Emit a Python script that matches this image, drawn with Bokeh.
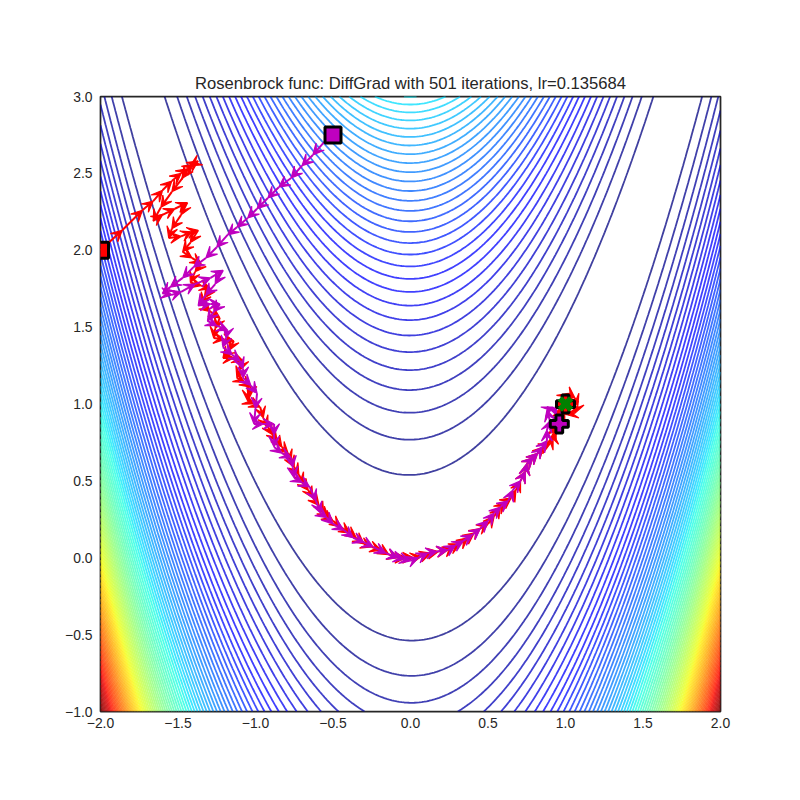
import numpy as np
from bokeh.plotting import figure
from bokeh.models import Arrow, VeeHead, ColumnDataSource, FixedTicker, Range1d
from bokeh.embed import file_html
from bokeh.resources import INLINE

# ---------------- data ----------------
title_text = "Rosenbrock func: DiffGrad with 501 iterations, lr=0.135684"

x_ticks = [-2.0, -1.5, -1.0, -0.5, 0.0, 0.5, 1.0, 1.5, 2.0]
x_tick_labels = ["\u22122.0", "\u22121.5", "\u22121.0", "\u22120.5", "0.0", "0.5", "1.0", "1.5", "2.0"]
y_ticks = [-1.0, -0.5, 0.0, 0.5, 1.0, 1.5, 2.0, 2.5, 3.0]
y_tick_labels = ["\u22121.0", "\u22120.5", "0.0", "0.5", "1.0", "1.5", "2.0", "2.5", "3.0"]

# contour levels of the Rosenbrock surface (spacing)
contour_levels = list(np.arange(30, 2500, 30))

# optimizer path 1 (red)
red_x = [-2.00, -1.86, -1.73, -1.66, -1.60, -1.54, -1.48, -1.44, -1.40, -1.37,
         -1.42, -1.47, -1.54, -1.61, -1.66, -1.60, -1.52, -1.44, -1.48, -1.54,
         -1.56, -1.48, -1.41, -1.37, -1.42, -1.47, -1.41, -1.35, -1.39, -1.42,
         -1.35, -1.29, -1.33, -1.35, -1.29, -1.23, -1.26, -1.27, -1.20, -1.14,
         -1.17, -1.21, -1.14, -1.08, -1.10, -1.12, -1.07, -1.03, -1.05, -1.05,
         -1.01, -0.97, -0.95, -0.92, -0.89, -0.86, -0.83, -0.79, -0.77, -0.75,
         -0.72, -0.69, -0.66, -0.63, -0.59, -0.56, -0.53, -0.50, -0.45, -0.39,
         -0.35, -0.30, -0.25, -0.19, -0.14, -0.08, -0.03, 0.02, 0.07, 0.13,
         0.18, 0.24, 0.28, 0.32, 0.37, 0.41, 0.45, 0.50, 0.54, 0.58,
         0.61, 0.65, 0.68, 0.71, 0.74, 0.75, 0.79, 0.82, 0.86, 0.90,
         0.92, 0.92, 0.94, 0.95, 0.96, 0.97, 0.98, 1.02, 1.06, 1.08,
         1.06, 1.01, 0.97, 0.99, 1.03, 1.01, 1.00]
red_y = [2.00, 2.13, 2.26, 2.32, 2.39, 2.45, 2.50, 2.53, 2.56, 2.58,
         2.55, 2.47, 2.38, 2.28, 2.19, 2.23, 2.27, 2.31, 2.23, 2.14,
         2.08, 2.09, 2.12, 2.13, 2.05, 1.99, 1.95, 1.91, 1.86, 1.79,
         1.77, 1.75, 1.69, 1.65, 1.60, 1.56, 1.49, 1.43, 1.42, 1.41,
         1.35, 1.30, 1.30, 1.28, 1.22, 1.17, 1.14, 1.11, 1.06, 1.02,
         1.00, 0.98, 0.91, 0.85, 0.80, 0.76, 0.72, 0.68, 0.63, 0.59,
         0.54, 0.48, 0.44, 0.39, 0.34, 0.29, 0.26, 0.24, 0.20, 0.16,
         0.13, 0.09, 0.07, 0.05, 0.02, 0.00, -0.00, -0.00, 0.01, 0.03,
         0.04, 0.05, 0.07, 0.09, 0.13, 0.16, 0.19, 0.22, 0.27, 0.33,
         0.36, 0.39, 0.44, 0.50, 0.56, 0.61, 0.65, 0.68, 0.72, 0.74,
         0.78, 0.81, 0.85, 0.89, 0.94, 0.98, 1.04, 1.07, 1.04, 0.99,
         0.94, 0.93, 0.97, 1.02, 1.01, 0.99, 1.00]

# optimizer path 2 (magenta)
mag_x = [-0.50, -0.56, -0.63, -0.70, -0.77, -0.85, -0.92, -0.99, -1.05, -1.12,
         -1.18, -1.25, -1.32, -1.40, -1.47, -1.55, -1.60, -1.54, -1.48, -1.39,
         -1.29, -1.21, -1.26, -1.32, -1.37, -1.29, -1.23, -1.27, -1.31, -1.25,
         -1.18, -1.19, -1.21, -1.15, -1.10, -1.08, -1.08, -1.03, -0.99, -1.00,
         -1.01, -0.95, -0.88, -0.88, -0.88, -0.83, -0.77, -0.76, -0.75, -0.70,
         -0.65, -0.61, -0.58, -0.54, -0.50, -0.43, -0.37, -0.30, -0.24, -0.16,
         -0.08, -0.04, 0.00, 0.05, 0.11, 0.17, 0.24, 0.29, 0.34, 0.40,
         0.45, 0.50, 0.54, 0.58, 0.63, 0.66, 0.71, 0.74, 0.75, 0.79,
         0.82, 0.85, 0.88, 0.88, 0.90, 0.88, 0.92, 0.94, 0.96]
mag_y = [2.75, 2.70, 2.62, 2.55, 2.47, 2.41, 2.34, 2.27, 2.21, 2.15,
         2.10, 2.02, 1.95, 1.89, 1.82, 1.76, 1.72, 1.71, 1.73, 1.78,
         1.82, 1.87, 1.78, 1.71, 1.64, 1.65, 1.65, 1.60, 1.54, 1.51,
         1.48, 1.43, 1.37, 1.32, 1.28, 1.23, 1.17, 1.12, 1.07, 0.97,
         0.87, 0.87, 0.87, 0.80, 0.72, 0.68, 0.65, 0.59, 0.52, 0.49,
         0.46, 0.37, 0.29, 0.26, 0.22, 0.18, 0.13, 0.10, 0.07, 0.03,
         0.00, -0.01, -0.02, 0.00, 0.03, 0.04, 0.05, 0.08, 0.11, 0.15,
         0.19, 0.24, 0.29, 0.33, 0.37, 0.44, 0.50, 0.56, 0.61, 0.65,
         0.68, 0.72, 0.76, 0.83, 0.89, 0.96, 0.98, 0.93, 0.87]

minimum_xy = (1.0, 1.0)

# ---------------- helpers ----------------
def jet(v):
    r = np.interp(v, [0, 0.35, 0.66, 0.89, 1.0], [0, 0, 1, 1, 0.5])
    g = np.interp(v, [0, 0.125, 0.375, 0.64, 0.91, 1.0], [0, 0, 1, 1, 0, 0])
    b = np.interp(v, [0, 0.11, 0.34, 0.65, 1.0], [0.5, 1, 1, 0, 0])
    return "#%02x%02x%02x" % (int(round(r * 255)), int(round(g * 255)), int(round(b * 255)))

lv = np.array(contour_levels, dtype=float)
norm = (lv - lv.min()) / (lv.max() - lv.min())
contour_colors = [jet(v) for v in norm]

gx = np.linspace(-2, 2, 250)
gy = np.linspace(-1, 3, 250)
GX, GY = np.meshgrid(gx, gy)
GZ = (1 - GX) ** 2 + 100 * (GY - GX ** 2) ** 2

TXT = "#262626"
FONT = "Liberation Sans"

p = figure(frame_width=620, frame_height=615,
           x_range=Range1d(-2, 2), y_range=Range1d(-1, 3),
           output_backend="svg", toolbar_location=None,
           min_border_left=100, min_border_top=96, min_border_right=60, min_border_bottom=60,
           background_fill_color="white", border_fill_color="white")

p.title.text = title_text
p.title.align = "center"
p.title.text_font = FONT
p.title.text_font_size = "16.6px"
p.title.text_font_style = "normal"
p.title.text_color = TXT
p.title.standoff = 8

p.xgrid.visible = False
p.ygrid.visible = False
p.outline_line_color = TXT
p.outline_line_width = 1.75

for ax, ticks, labels in ((p.xaxis, x_ticks, x_tick_labels), (p.yaxis, y_ticks, y_tick_labels)):
    ax.ticker = FixedTicker(ticks=ticks)
    ax.major_label_overrides = {t: l for t, l in zip(ticks, labels)}
    ax.axis_line_color = None
    ax.major_tick_line_color = None
    ax.minor_tick_line_color = None
    ax.major_label_text_font = FONT
    ax.major_label_text_font_size = "13.9px"
    ax.major_label_text_color = TXT
p.xaxis.major_label_standoff = 0
p.yaxis.major_label_standoff = 2

cr = p.contour(x=GX, y=GY, z=GZ, levels=contour_levels,
               line_color=contour_colors, line_width=1.8, line_alpha=0.75)
cr.level = "image"

def add_path(xs, ys, color):
    src = ColumnDataSource(dict(x0=xs[:-1], y0=ys[:-1], x1=xs[1:], y1=ys[1:]))
    p.add_layout(Arrow(end=VeeHead(size=11, fill_color=color, line_color=color, line_width=1.2),
                       x_start="x0", y_start="y0", x_end="x1", y_end="y1", source=src,
                       line_color=color, line_width=2.0, level="underlay"))

RED = "#ff0000"
MAG = "#bf00bf"
add_path(red_x, red_y, RED)
add_path(mag_x, mag_y, MAG)

# start squares
p.scatter(x=[red_x[0]], y=[red_y[0]], marker="square", size=16,
          fill_color=RED, line_color="black", line_width=3)
p.scatter(x=[mag_x[0]], y=[mag_y[0]], marker="square", size=16,
          fill_color=MAG, line_color="black", line_width=3)
# end markers
p.scatter(x=[red_x[-1]], y=[red_y[-1]], marker="plus", size=18,
          fill_color=RED, line_color="black", line_width=3)
p.scatter(x=[mag_x[-1]], y=[mag_y[-1]], marker="plus", size=18,
          fill_color=MAG, line_color="black", line_width=3)
# global minimum
p.scatter(x=[minimum_xy[0]], y=[minimum_xy[1]], marker="x", size=16,
          line_color="#008000", line_width=6)

open("out.html", "w").write(file_html(p, INLINE))
